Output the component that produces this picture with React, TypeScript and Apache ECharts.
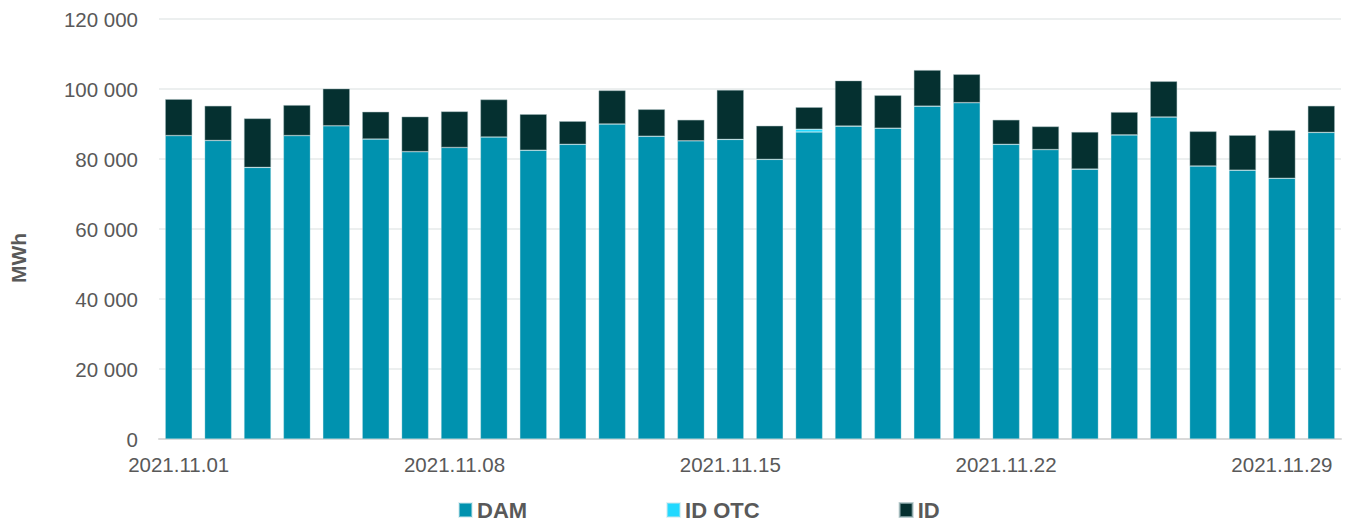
import React, { useEffect, useRef } from "react";
import * as echarts from "echarts";

const categories = [
  "2021.11.01", "2021.11.02", "2021.11.03", "2021.11.04", "2021.11.05", "2021.11.06",
  "2021.11.07", "2021.11.08", "2021.11.09", "2021.11.10", "2021.11.11", "2021.11.12",
  "2021.11.13", "2021.11.14", "2021.11.15", "2021.11.16", "2021.11.17", "2021.11.18",
  "2021.11.19", "2021.11.20", "2021.11.21", "2021.11.22", "2021.11.23", "2021.11.24",
  "2021.11.25", "2021.11.26", "2021.11.27", "2021.11.28", "2021.11.29", "2021.11.30",
];

const damValues = [
  86700, 85300, 77600, 86700, 89500, 85700, 82100, 83300, 86300, 82500,
  84200, 90000, 86500, 85200, 85600, 79900, 87700, 89400, 88800, 95100,
  96100, 84200, 82700, 77100, 86900, 92000, 78000, 76800, 74500, 87600,
];

const idOtcValues = [
  0, 0, 0, 0, 0, 0, 0, 0, 0, 0,
  0, 0, 0, 0, 0, 0, 800, 0, 0, 0,
  0, 0, 0, 0, 0, 0, 0, 0, 0, 0,
];

const idValues = [
  10400, 9900, 14000, 8700, 10600, 7800, 10000, 10300, 10700, 10300,
  6600, 9600, 7700, 6000, 14100, 9600, 6300, 13000, 9400, 10300,
  8100, 7000, 6600, 10600, 6500, 10200, 9900, 10000, 13700, 7600,
];

const seriesNames = ["DAM", "ID OTC", "ID"];
const seriesColors = ["#0092AF", "#22D9FF", "#053030"];

const fmt = (v: number) => String(v).replace(/\B(?=(\d{3})+(?!\d))/g, " ");

export default function App() {
  const ref = useRef<HTMLDivElement>(null);

  useEffect(() => {
    document.body.style.margin = "0";
    if (!ref.current) return;
    const chart = echarts.init(ref.current, undefined, { renderer: "svg" });
    const font = "'Liberation Sans', Arial, sans-serif";
    const dataSets = [damValues, idOtcValues, idValues];
    chart.setOption({
      animation: false,
      textStyle: { fontFamily: font },
      grid: { left: 159, right: 9, top: 19, bottom: 85, containLabel: false },
      legend: {
        left: 453,
        top: 494,
        itemWidth: 13,
        itemHeight: 14,
        itemGap: 139,
        icon: "rect",
        textStyle: { color: "#595959", fontSize: 22, fontWeight: "bold", fontFamily: font, lineHeight: 22 },
        data: seriesNames,
      },
      graphic: [
        {
          type: "text",
          x: 18,
          y: 258,
          rotation: Math.PI / 2,
          style: {
            text: "MWh",
            fill: "#595959",
            font: `bold 21px ${font}`,
            textAlign: "center",
            textVerticalAlign: "middle",
          },
        },
      ],
      xAxis: {
        type: "category",
        data: categories,
        axisLine: { lineStyle: { color: "#d9d9d9", width: 2 } },
        axisTick: { show: false },
        axisLabel: {
          interval: 6,
          color: "#595959",
          fontSize: 20.5,
          margin: 15,
          fontFamily: font,
        },
      },
      yAxis: {
        type: "value",
        min: 0,
        max: 120000,
        interval: 20000,
        axisLine: { show: false },
        axisTick: { show: false },
        splitLine: { lineStyle: { color: "#e6eaea", width: 1.5 } },
        axisLabel: {
          color: "#595959",
          fontSize: 20.5,
          margin: 21,
          fontFamily: font,
          formatter: (v: number) => fmt(v),
        },
      },
      series: seriesNames.map((name, i) => ({
        name,
        type: "bar",
        stack: "total",
        barWidth: 27,
        data: dataSets[i],
        itemStyle: {
          color: seriesColors[i],
          borderColor: i === 2 ? "rgba(160,185,188,0.7)" : "rgba(200,230,235,0.5)",
          borderWidth: 0.6,
        },
      })),
    });
    return () => chart.dispose();
  }, []);

  return <div ref={ref} style={{ width: 1350, height: 524 }} />;
}
